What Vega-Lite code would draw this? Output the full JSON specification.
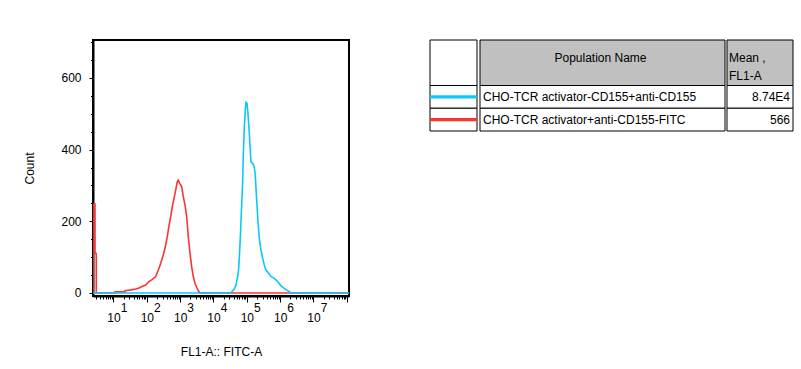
{
  "$schema": "https://vega.github.io/schema/vega-lite/v6.json",
  "background": "white",
  "padding": {"left": 22, "top": 35, "right": 5, "bottom": 5},
  "config": {
    "font": "Liberation Sans",
    "view": {"stroke": null},
    "axis": {"labelColor": "black", "titleColor": "black", "tickColor": "black", "domainColor": "black", "grid": false, "labelFontSize": 12, "titleFontSize": 12, "titleFontWeight": "normal", "domainWidth": 2}
  },
  "datasets": {
    "hist": [
      {"pop": "red", "fl1": 2.44, "count": 0},
      {"pop": "red", "fl1": 2.45, "count": 248},
      {"pop": "red", "fl1": 2.78, "count": 248},
      {"pop": "red", "fl1": 2.79, "count": 110},
      {"pop": "red", "fl1": 3.04, "count": 110},
      {"pop": "red", "fl1": 3.05, "count": 0},
      {"pop": "red", "fl1": 10.8, "count": 0},
      {"pop": "red", "fl1": 11.1, "count": 3},
      {"pop": "red", "fl1": 21.8, "count": 3},
      {"pop": "red", "fl1": 22.1, "count": 6.5},
      {"pop": "red", "fl1": 30.6, "count": 8},
      {"pop": "red", "fl1": 46.3, "count": 11},
      {"pop": "red", "fl1": 58.2, "count": 14},
      {"pop": "red", "fl1": 71.6, "count": 18},
      {"pop": "red", "fl1": 92.5, "count": 22},
      {"pop": "red", "fl1": 116, "count": 32},
      {"pop": "red", "fl1": 146, "count": 38},
      {"pop": "red", "fl1": 185, "count": 46},
      {"pop": "red", "fl1": 206, "count": 57},
      {"pop": "red", "fl1": 232, "count": 69},
      {"pop": "red", "fl1": 261, "count": 83},
      {"pop": "red", "fl1": 291, "count": 97},
      {"pop": "red", "fl1": 327, "count": 113},
      {"pop": "red", "fl1": 368, "count": 134},
      {"pop": "red", "fl1": 411, "count": 157},
      {"pop": "red", "fl1": 462, "count": 187},
      {"pop": "red", "fl1": 520, "count": 213},
      {"pop": "red", "fl1": 581, "count": 241},
      {"pop": "red", "fl1": 653, "count": 264},
      {"pop": "red", "fl1": 735, "count": 287},
      {"pop": "red", "fl1": 820, "count": 311},
      {"pop": "red", "fl1": 879, "count": 315},
      {"pop": "red", "fl1": 968, "count": 306},
      {"pop": "red", "fl1": 1112, "count": 297},
      {"pop": "red", "fl1": 1242, "count": 269},
      {"pop": "red", "fl1": 1396, "count": 246},
      {"pop": "red", "fl1": 1570, "count": 213},
      {"pop": "red", "fl1": 1754, "count": 157},
      {"pop": "red", "fl1": 1972, "count": 111},
      {"pop": "red", "fl1": 2218, "count": 73},
      {"pop": "red", "fl1": 2477, "count": 46},
      {"pop": "red", "fl1": 2786, "count": 27},
      {"pop": "red", "fl1": 3133, "count": 16},
      {"pop": "red", "fl1": 3499, "count": 6},
      {"pop": "red", "fl1": 3936, "count": 0},
      {"pop": "red", "fl1": 116000000, "count": 0},
      {"pop": "blue", "fl1": 2.44, "count": 0},
      {"pop": "blue", "fl1": 30000, "count": 0},
      {"pop": "blue", "fl1": 33500, "count": 1},
      {"pop": "blue", "fl1": 37700, "count": 6},
      {"pop": "blue", "fl1": 42100, "count": 11},
      {"pop": "blue", "fl1": 47300, "count": 22},
      {"pop": "blue", "fl1": 53200, "count": 46},
      {"pop": "blue", "fl1": 57000, "count": 69},
      {"pop": "blue", "fl1": 59400, "count": 97},
      {"pop": "blue", "fl1": 63700, "count": 153},
      {"pop": "blue", "fl1": 66800, "count": 199},
      {"pop": "blue", "fl1": 70200, "count": 246},
      {"pop": "blue", "fl1": 75200, "count": 311},
      {"pop": "blue", "fl1": 78400, "count": 385},
      {"pop": "blue", "fl1": 84000, "count": 460},
      {"pop": "blue", "fl1": 90000, "count": 511},
      {"pop": "blue", "fl1": 94400, "count": 532},
      {"pop": "blue", "fl1": 101200, "count": 529},
      {"pop": "blue", "fl1": 108400, "count": 501},
      {"pop": "blue", "fl1": 116100, "count": 460},
      {"pop": "blue", "fl1": 124500, "count": 413},
      {"pop": "blue", "fl1": 133400, "count": 366},
      {"pop": "blue", "fl1": 150000, "count": 362},
      {"pop": "blue", "fl1": 167500, "count": 352},
      {"pop": "blue", "fl1": 179500, "count": 329},
      {"pop": "blue", "fl1": 188400, "count": 293},
      {"pop": "blue", "fl1": 201800, "count": 246},
      {"pop": "blue", "fl1": 216300, "count": 199},
      {"pop": "blue", "fl1": 236600, "count": 153},
      {"pop": "blue", "fl1": 266100, "count": 120},
      {"pop": "blue", "fl1": 299200, "count": 97},
      {"pop": "blue", "fl1": 334200, "count": 78},
      {"pop": "blue", "fl1": 375800, "count": 64},
      {"pop": "blue", "fl1": 452900, "count": 55},
      {"pop": "blue", "fl1": 530900, "count": 46},
      {"pop": "blue", "fl1": 666800, "count": 41},
      {"pop": "blue", "fl1": 843700, "count": 32},
      {"pop": "blue", "fl1": 1059000, "count": 20},
      {"pop": "blue", "fl1": 1330000, "count": 13},
      {"pop": "blue", "fl1": 1683000, "count": 6.5},
      {"pop": "blue", "fl1": 2113000, "count": 0},
      {"pop": "blue", "fl1": 116000000, "count": 0}
    ],
    "cells": [
      {"col": "swatch", "r0": 0, "r1": 2, "kind": "blank"},
      {"col": "swatch", "r0": 2, "r1": 3, "kind": "body"},
      {"col": "swatch", "r0": 3, "r1": 4, "kind": "body"},
      {"col": "name", "r0": 0, "r1": 2, "kind": "header"},
      {"col": "name", "r0": 2, "r1": 3, "kind": "body"},
      {"col": "name", "r0": 3, "r1": 4, "kind": "body"},
      {"col": "mean", "r0": 0, "r1": 2, "kind": "header"},
      {"col": "mean", "r0": 2, "r1": 3, "kind": "body"},
      {"col": "mean", "r0": 3, "r1": 4, "kind": "body"}
    ],
    "rows": [
      {"row": 2.5, "pop": "blue", "name": "CHO-TCR activator-CD155+anti-CD155", "mean": "8.74E4"},
      {"row": 3.5, "pop": "red", "name": "CHO-TCR activator+anti-CD155-FITC", "mean": "566"}
    ],
    "headers": [
      {"row": 1, "name": "Population Name", "mean": "Mean ,\nFL1-A"}
    ]
  },
  "spacing": 78,
  "hconcat": [
    {
      "width": 256,
      "height": 256,
      "view": {"stroke": "black", "strokeWidth": 2},
      "data": {"name": "hist"},
      "encoding": {
        "y": {
          "field": "count", "type": "quantitative", "title": "Count",
          "scale": {"domain": [-8.4, 706], "nice": false, "zero": false},
          "axis": {
            "values": [0,50,100,150,200,250,300,350,400,450,500,550,600,650,700],
            "labelExpr": "datum.value % 200 === 0 ? datum.label : ''",
            "tickSize": {"condition": {"test": "datum.value % 200 === 0", "value": 4}, "value": 2.5},
            "labelPadding": 8,
            "labelOverlap": false,
            "titlePadding": 24
          }
        }
      },
      "resolve": {"axis": {"x": "independent"}},
      "layer": [
        {
          "transform": [{"filter": "datum.pop === 'red'"}],
          "mark": {"type": "line", "color": "#f93434", "strokeWidth": 1.6, "clip": true},
          "encoding": {
            "x": {
              "field": "fl1", "type": "quantitative", "title": "FL1-A:: FITC-A",
              "scale": {"type": "log", "domain": [2.427, 116400000], "nice": false},
              "axis": {
                "orient": "bottom",
                "values": [3,4,5,6,7,8,9,10,20,30,40,50,60,70,80,90,100,200,300,400,500,600,700,800,900,1000,2000,3000,4000,5000,6000,7000,8000,9000,10000,20000,30000,40000,50000,60000,70000,80000,90000,100000,200000,300000,400000,500000,600000,700000,800000,900000,1000000,2000000,3000000,4000000,5000000,6000000,7000000,8000000,9000000,10000000,20000000,30000000,40000000,50000000,60000000,70000000,80000000,90000000,100000000],
                "labelExpr": "(abs(log(datum.value)/LN10 - round(log(datum.value)/LN10)) < 0.001 && datum.value < 50000000) ? '10' : ''",
                "tickSize": {"condition": {"test": "abs(log(datum.value)/LN10 - round(log(datum.value)/LN10)) < 0.001", "value": 6}, "value": 3},
                "labelOverlap": false,
                "labelFlush": false,
                "labelBound": false,
                "labelPadding": 10,
                "labelBaseline": "top",
                "titlePadding": 23
              }
            }
          }
        },
        {
          "transform": [{"filter": "datum.pop === 'blue'"}],
          "mark": {"type": "line", "color": "#0ac8f8", "strokeWidth": 1.6, "clip": true},
          "encoding": {
            "x": {
              "field": "fl1", "type": "quantitative",
              "scale": {"type": "log", "domain": [2.427, 116400000], "nice": false},
              "axis": {
                "orient": "bottom",
                "title": null,
                "values": [10,100,1000,10000,100000,1000000,10000000],
                "labelExpr": "format(round(log(datum.value)/LN10), 'd')",
                "domain": false,
                "ticks": false,
                "tickSize": 0,
                "labelOverlap": false,
                "labelFlush": false,
                "labelBound": false,
                "labelPadding": 6,
                "labelOffset": 10,
                "labelBaseline": "top"
              }
            }
          }
        }
      ]
    },
    {
      "spacing": 0,
      "hconcat": [
        {
          "width": 47,
          "height": 91,
          "layer": [
            {
              "data": {"name": "cells"},
              "transform": [{"filter": "datum.col === 'swatch'"}],
              "mark": {"type": "rect", "fill": "white", "stroke": "black", "strokeWidth": 1},
              "encoding": {
                "y": {"field": "r0", "type": "quantitative", "scale": {"domain": [0, 4], "reverse": true, "nice": false, "zero": false}, "axis": null},
                "y2": {"field": "r1"}
              }
            },
            {
              "data": {"name": "rows"},
              "mark": {"type": "rule", "strokeWidth": 3.3},
              "encoding": {
                "y": {"field": "row", "type": "quantitative", "scale": {"domain": [0, 4], "reverse": true, "nice": false, "zero": false}, "axis": null},
                "color": {"field": "pop", "type": "nominal", "scale": {"domain": ["blue", "red"], "range": ["#0ac8f8", "#f93434"]}, "legend": null}
              }
            }
          ]
        },
        {
          "width": 245,
          "height": 91,
          "layer": [
            {
              "data": {"name": "cells"},
              "transform": [{"filter": "datum.col === 'name'"}],
              "mark": {"type": "rect", "stroke": "black", "strokeWidth": 1},
              "encoding": {
                "y": {"field": "r0", "type": "quantitative", "scale": {"domain": [0, 4], "reverse": true, "nice": false, "zero": false}, "axis": null},
                "y2": {"field": "r1"},
                "fill": {"field": "kind", "type": "nominal", "scale": {"domain": ["header", "body", "blank"], "range": ["#c0c0c0", "white", "white"]}, "legend": null}
              }
            },
            {
              "data": {"name": "headers"},
              "mark": {"type": "text", "fontSize": 12, "color": "black", "align": "center", "baseline": "middle", "dy": -5, "dx": -2},
              "encoding": {
                "y": {"field": "row", "type": "quantitative", "scale": {"domain": [0, 4], "reverse": true, "nice": false, "zero": false}, "axis": null},
                "text": {"field": "name"}
              }
            },
            {
              "data": {"name": "rows"},
              "mark": {"type": "text", "fontSize": 12, "color": "black", "align": "left", "baseline": "middle", "dx": 3},
              "encoding": {
                "x": {"datum": 0, "type": "quantitative", "scale": {"domain": [0, 1], "nice": false}, "axis": null},
                "y": {"field": "row", "type": "quantitative", "scale": {"domain": [0, 4], "reverse": true, "nice": false, "zero": false}, "axis": null},
                "text": {"field": "name"}
              }
            }
          ]
        },
        {
          "width": 66,
          "height": 91,
          "layer": [
            {
              "data": {"name": "cells"},
              "transform": [{"filter": "datum.col === 'mean'"}],
              "mark": {"type": "rect", "stroke": "black", "strokeWidth": 1},
              "encoding": {
                "y": {"field": "r0", "type": "quantitative", "scale": {"domain": [0, 4], "reverse": true, "nice": false, "zero": false}, "axis": null},
                "y2": {"field": "r1"},
                "fill": {"field": "kind", "type": "nominal", "scale": {"domain": ["header", "body", "blank"], "range": ["#c0c0c0", "white", "white"]}, "legend": null}
              }
            },
            {
              "data": {"name": "headers"},
              "mark": {"type": "text", "fontSize": 12, "color": "black", "align": "left", "baseline": "middle", "lineBreak": "\n", "lineHeight": 18.6, "dx": 2, "dy": -5},
              "encoding": {
                "x": {"datum": 0, "type": "quantitative", "scale": {"domain": [0, 1], "nice": false}, "axis": null},
                "y": {"field": "row", "type": "quantitative", "scale": {"domain": [0, 4], "reverse": true, "nice": false, "zero": false}, "axis": null},
                "text": {"field": "mean"}
              }
            },
            {
              "data": {"name": "rows"},
              "mark": {"type": "text", "fontSize": 12, "color": "black", "align": "right", "baseline": "middle", "dx": -3},
              "encoding": {
                "x": {"datum": 1, "type": "quantitative", "scale": {"domain": [0, 1], "nice": false}, "axis": null},
                "y": {"field": "row", "type": "quantitative", "scale": {"domain": [0, 4], "reverse": true, "nice": false, "zero": false}, "axis": null},
                "text": {"field": "mean"}
              }
            }
          ]
        }
      ]
    }
  ]
}
